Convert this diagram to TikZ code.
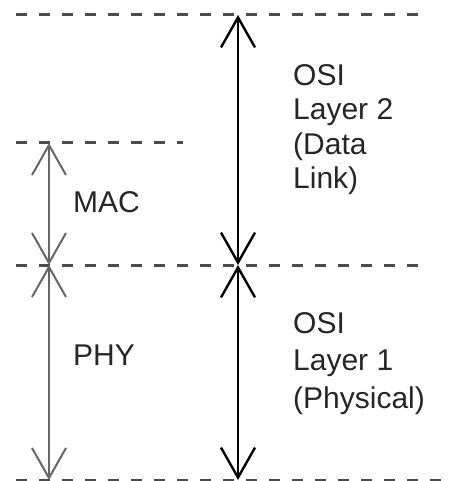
\documentclass[tikz,border=0pt]{standalone}
\usepackage{fontspec}
\setmainfont{Liberation Sans}
\usetikzlibrary{arrows.meta}
\begin{document}
\begin{tikzpicture}[x=1pt,y=-1pt,
  level/.style={black!70,line width=3pt,dash pattern=on 11pt off 12pt},
  span/.style={{Straight Barb[length=30pt,width=34pt]}-{Straight Barb[length=30pt,width=34pt]},line width=2.4pt},
  lbl/.style={anchor=base west,inner sep=0pt,text=black!85,align=left,font=\fontsize{30}{34.5}\selectfont}]
  \useasboundingbox (0,0) rectangle (450,481);
  % layer boundaries
  \foreach \y/\x in {15/420,143/183,265/420,480/443}{\draw[level] (16,\y) -- (\x,\y);}

  \coordinate (l2top) at (238,15);
  \coordinate (l2mid) at (238,265);
  \coordinate (l1bot) at (238,480);
  \coordinate (mactop) at (49,143);
  \coordinate (macmid) at (49,265);
  \coordinate (phybot) at (49,480);

  \draw[span] (l2top) -- (l2mid);
  \draw[span] (l2mid) -- (l1bot);
  \draw[span,black!60,line width=2pt] (mactop) -- (macmid);
  \draw[span,black!60,line width=2pt] (macmid) -- (phybot);

  \node[lbl] (mac) at (73,212) {MAC};
  \node[lbl] (phy) at (73,365) {PHY};
  \node[lbl,anchor=north west] (osi2) at (293,64) {OSI\\Layer 2\\(Data\\Link)};
  \node[lbl,anchor=north west,font=\fontsize{30}{37.5}\selectfont] (osi1) at (293,312) {OSI\\Layer 1\\(Physical)};
\end{tikzpicture}
\end{document}
